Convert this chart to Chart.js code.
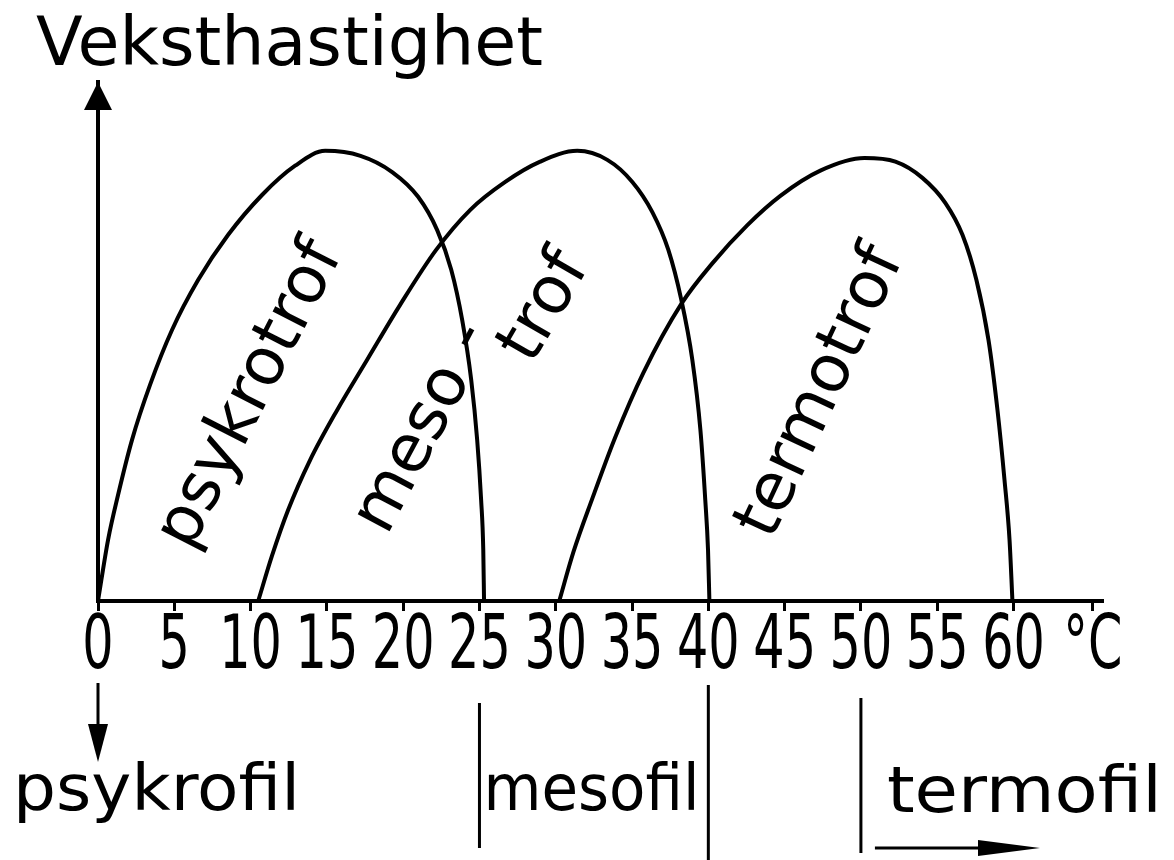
<!DOCTYPE html>
<html>
<head>
<meta charset="utf-8">
<script src="https://cdn.jsdelivr.net/npm/chart.js@4.4.1/dist/chart.umd.min.js"></script>
<style>
  html, body { margin: 0; padding: 0; background: #fff; }
  canvas { display: block; }
</style>
</head>
<body>
<canvas id="chart" width="1174" height="860"></canvas>
<script>
// temperatur (°C) og relativ veksthastighet, lest av figuren
const psykroTemp = [0, 0.66, 1.31, 2.23, 3.41, 4.85, 6.56, 8.52, 10.75, 12.92, 14.89,
  17.2, 19.28, 20.98, 22.23, 23.15, 23.87, 24.46, 24.85, 25.11, 25.25, 25.3];
const psykroRate = [0, 13.6, 23.5, 35.8, 48, 60.2, 71.3, 81.3, 90.2, 96.7, 100,
  98.9, 95.3, 89.8, 82.4, 73.6, 62.4, 49.1, 35.8, 22.4, 11.3, 0];

const mesoTemp = [10.5, 11.4, 12.46, 13.9, 15.67, 17.64, 19.8, 22.16, 24.4, 26.69, 28.98, 31.41,
  33.38, 35.02, 36.33, 37.38, 38.23, 38.95, 39.48, 39.8, 39.98, 40.07];
const mesoRate = [0, 10, 20.2, 31.3, 42.4, 53.6, 65.8, 78, 86.9, 93.1, 97.6, 100,
  98, 93.1, 86.4, 78, 66.9, 53.6, 38, 22.4, 11.3, 0];

const termoTemp = [30.23, 31.15, 32.4, 33.9, 35.74, 38.23, 40.26, 42.56, 44.72, 47.34, 50.23,
  52.26, 54.03, 55.54, 56.66, 57.57, 58.36, 58.95, 59.41, 59.74, 59.93];
const termoRate = [0, 10.8, 22.8, 36.4, 50.7, 66, 75, 83.5, 90, 95.6, 98.4,
  97.6, 94, 88.4, 81.3, 71.3, 58, 42.4, 26.9, 13.6, 0];

const xTicks = [0, 5, 10, 15, 20, 25, 30, 35, 40, 45, 50, 55, 60, 65.2];
const xTickLabels = ['0', '5', '10', '15', '20', '25', '30', '35', '40', '45', '50', '55', '60', '°C'];

const yTitle = 'Veksthastighet';
const curveNames = ['psykrotrof', 'meso-', 'trof', 'termotrof'];
const groupNames = ['psykrofil', 'mesofil', 'termofil'];

const toPoints = (xs, ys) => xs.map((x, i) => ({ x: x, y: ys[i] }));

const curve = (data) => ({
  data: data,
  borderColor: '#000',
  borderWidth: 4,
  pointRadius: 0,
  fill: false,
  cubicInterpolationMode: 'monotone'
});

const textFont = "'DejaVu Sans', sans-serif";

// skriv tekst strukket/krympet til gitt bredde
function fitText(ctx, text, x, y, width) {
  const w = ctx.measureText(text).width;
  ctx.save();
  ctx.translate(x, y);
  ctx.scale(width / w, 1);
  ctx.fillText(text, 0, 0);
  ctx.restore();
}

function arrowHead(ctx, tipX, tipY, dirX, dirY, len, half) {
  const bx = tipX - dirX * len, by = tipY - dirY * len;
  ctx.beginPath();
  ctx.moveTo(tipX, tipY);
  ctx.lineTo(bx - dirY * half, by + dirX * half);
  ctx.lineTo(bx + dirY * half, by - dirX * half);
  ctx.closePath();
  ctx.fill();
}

function rotatedText(ctx, xs, ys, text, x, y, angle, size) {
  ctx.save();
  ctx.translate(xs.getPixelForValue(x), ys.getPixelForValue(y));
  ctx.rotate(angle * Math.PI / 180);
  ctx.fillText(text, 0, size * 0.27);
  ctx.restore();
}

const annotations = {
  id: 'annotations',
  afterDraw(chart) {
    const ctx = chart.ctx;
    const xs = chart.scales.x, ys = chart.scales.y;
    const area = chart.chartArea;
    ctx.save();
    ctx.fillStyle = '#000';
    ctx.strokeStyle = '#000';

    // pil på y-aksen
    arrowHead(ctx, xs.getPixelForValue(0), area.top, 0, -1, 28, 14);

    // aksetittel
    ctx.font = '68px ' + textFont;
    ctx.textAlign = 'left';
    ctx.textBaseline = 'alphabetic';
    fitText(ctx, yTitle, 36, 65, 507);

    // tallene på x-aksen, smal skrift
    ctx.font = "74px 'DejaVu Sans Condensed', 'DejaVu Sans', sans-serif";
    ctx.textAlign = 'center';
    xs.ticks.forEach((t, i) => {
      ctx.save();
      ctx.translate(xs.getPixelForValue(t.value), 668);
      ctx.scale(0.74, 1);
      ctx.fillText(xTickLabels[i], 0, 0);
      ctx.restore();
    });

    // skrå navn inne i kurvene
    ctx.font = '66px ' + textFont;
    rotatedText(ctx, xs, ys, curveNames[0], 10.0, 45.8, -63, 66);
    // "meso-" er delt av kurven: ordet og bindestreken hver for seg
    rotatedText(ctx, xs, ys, curveNames[1].slice(0, -1), 20.66, 33.8, -62, 66);
    rotatedText(ctx, xs, ys, curveNames[1].slice(-1), 24.26, 58.7, -62, 66);
    rotatedText(ctx, xs, ys, curveNames[2], 29.3, 65.3, -60, 66);
    rotatedText(ctx, xs, ys, curveNames[3], 47.4, 46.4, -65, 66);

    // inndeling under aksen
    const p0 = xs.getPixelForValue(0);
    const p25 = xs.getPixelForValue(25);
    const p40 = xs.getPixelForValue(40);
    const p50 = xs.getPixelForValue(50);
    ctx.lineWidth = 3;
    ctx.beginPath();
    ctx.moveTo(p0, 683); ctx.lineTo(p0, 735);
    ctx.moveTo(p25, 703); ctx.lineTo(p25, 848);
    ctx.moveTo(p40, 685); ctx.lineTo(p40, 860);
    ctx.moveTo(p50, 698); ctx.lineTo(p50, 853);
    ctx.moveTo(p50 + 14, 848); ctx.lineTo(990, 848);
    ctx.stroke();
    arrowHead(ctx, p0, 762, 0, 1, 38, 10);
    arrowHead(ctx, 1040, 848, 1, 0, 62, 8);

    ctx.font = '64px ' + textFont;
    ctx.textAlign = 'left';
    fitText(ctx, groupNames[0], 13, 810, 287);
    fitText(ctx, groupNames[1], p25 + 4, 810, 216);
    fitText(ctx, groupNames[2], p50 + 26, 812, 275);
    ctx.restore();
  }
};

new Chart(document.getElementById('chart'), {
  type: 'line',
  data: {
    datasets: [
      curve(toPoints(psykroTemp, psykroRate)),
      curve(toPoints(mesoTemp, mesoRate)),
      curve(toPoints(termoTemp, termoRate))
    ]
  },
  options: {
    responsive: false,
    animation: false,
    events: [],
    layout: { padding: { left: 98, right: 72, top: 82, bottom: 179 } },
    plugins: { legend: { display: false }, tooltip: { enabled: false } },
    scales: {
      x: {
        type: 'linear',
        min: 0,
        max: 65.8,
        afterBuildTicks: (s) => { s.ticks = xTicks.map(v => ({ value: v })); },
        afterFit: (s) => { s.height = 80; },
        ticks: { display: false, autoSkip: false },
        grid: { drawOnChartArea: false, tickLength: 10, color: '#000', lineWidth: 3 },
        border: { display: true, color: '#000', width: 4 }
      },
      y: {
        type: 'linear',
        min: 0,
        max: 115.3,
        ticks: { display: false },
        grid: { display: false, drawTicks: false },
        border: { display: true, color: '#000', width: 4 }
      }
    }
  },
  plugins: [annotations]
});
</script>
</body>
</html>
